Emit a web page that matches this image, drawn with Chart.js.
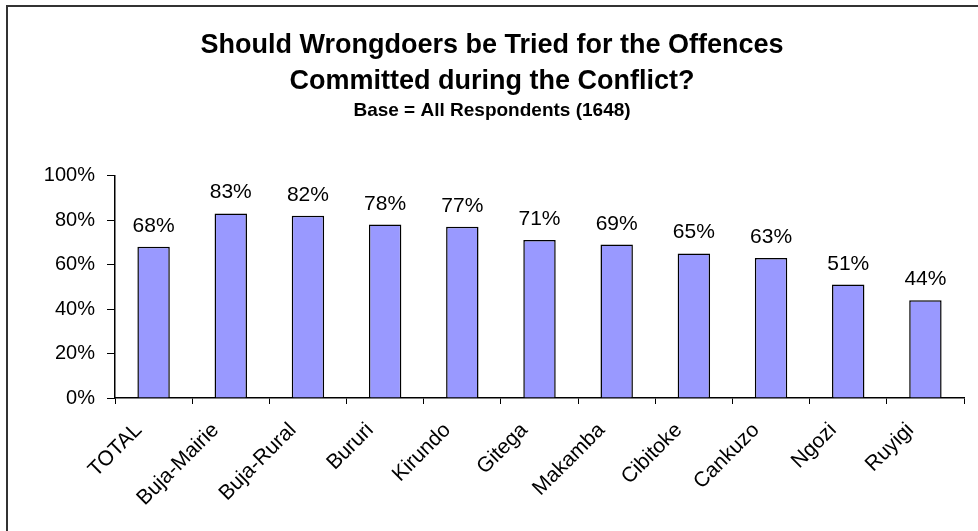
<!DOCTYPE html>
<html>
<head>
<meta charset="utf-8">
<script src="https://cdn.jsdelivr.net/npm/chart.js@4"></script>
<style>
  html, body { margin: 0; padding: 0; background: #fff; }
  #wrap { width: 978px; height: 531px; position: relative; }
</style>
</head>
<body>
<div id="wrap"><canvas id="chart" width="978" height="531"></canvas></div>
<script>
// Provinces and the share saying wrongdoers should be tried
const provinces = ['TOTAL', 'Buja-Mairie', 'Buja-Rural', 'Bururi', 'Kirundo', 'Gitega',
    'Makamba', 'Cibitoke', 'Cankuzo', 'Ngozi', 'Ruyigi'];
const shareTried = [68, 83, 82, 78, 77, 71, 69, 65, 63, 51, 44];
const yTicks = [0, 20, 40, 60, 80, 100];

const titleLines = ['Should Wrongdoers be Tried for the Offences', 'Committed during the Conflict?'];
const subtitleText = 'Base = All Respondents (1648)';

const FONT = '"Liberation Sans", Arial, sans-serif';

// Thin frame round the whole chart
const framePlugin = {
    id: 'frame',
    beforeDraw(chart) {
        const ctx = chart.ctx;
        ctx.save();
        ctx.fillStyle = '#fff';
        ctx.fillRect(0, 0, chart.width, chart.height);
        ctx.strokeStyle = '#333';
        ctx.lineWidth = 2;
        ctx.strokeRect(7, 6, chart.width + 20, chart.height + 20);
        ctx.restore();
    }
};

// Percent labels above each bar
const valueLabels = {
    id: 'valueLabels',
    afterDatasetsDraw(chart) {
        const ctx = chart.ctx;
        const meta = chart.getDatasetMeta(0);
        ctx.save();
        ctx.font = '21px ' + FONT;
        ctx.fillStyle = '#000';
        ctx.textAlign = 'center';
        ctx.textBaseline = 'alphabetic';
        meta.data.forEach((bar, i) => {
            ctx.fillText(shareTried[i] + '%', bar.x, bar.y - 15);
        });
        ctx.restore();
    }
};

new Chart(document.getElementById('chart'), {
    type: 'bar',
    data: {
        labels: provinces,
        datasets: [{
            data: shareTried,
            backgroundColor: '#9999FF',
            borderColor: '#000',
            borderWidth: 1.5,
            categoryPercentage: 1,
            barPercentage: 0.42
        }]
    },
    options: {
        responsive: false,
        animation: false,
        layout: { padding: { left: 20, right: 14, top: 28, bottom: 0 } },
        plugins: {
            legend: { display: false },
            tooltip: { enabled: false },
            title: {
                display: true,
                text: titleLines,
                color: '#000',
                font: { family: FONT, size: 27, weight: 'bold', lineHeight: 1.33 },
                padding: { top: 0, bottom: 0 }
            },
            subtitle: {
                display: true,
                text: subtitleText,
                color: '#000',
                font: { family: FONT, size: 19, weight: 'bold' },
                padding: { top: 0, bottom: 53 }
            }
        },
        scales: {
            x: {
                grid: { display: true, drawOnChartArea: false, drawTicks: true, tickLength: 6, color: '#000', offset: true },
                border: { color: '#000', width: 1.5 },
                ticks: {
                    color: '#000',
                    font: { family: FONT, size: 21 },
                    maxRotation: 45,
                    minRotation: 45,
                    padding: 14,
                    labelOffset: -15
                },
                afterFit(scale) { scale.height = 133; }
            },
            y: {
                min: 0,
                max: 100,
                afterBuildTicks(scale) { scale.ticks = yTicks.map(v => ({ value: v })); },
                grid: { display: true, drawOnChartArea: false, drawTicks: true, tickLength: 8, color: '#000' },
                border: { color: '#000', width: 1.5 },
                ticks: {
                    color: '#000',
                    font: { family: FONT, size: 20 },
                    padding: 12,
                    callback: v => v + '%'
                },
                afterFit(scale) { scale.width = 95; }
            }
        }
    },
    plugins: [framePlugin, valueLabels]
});
</script>
</body>
</html>
